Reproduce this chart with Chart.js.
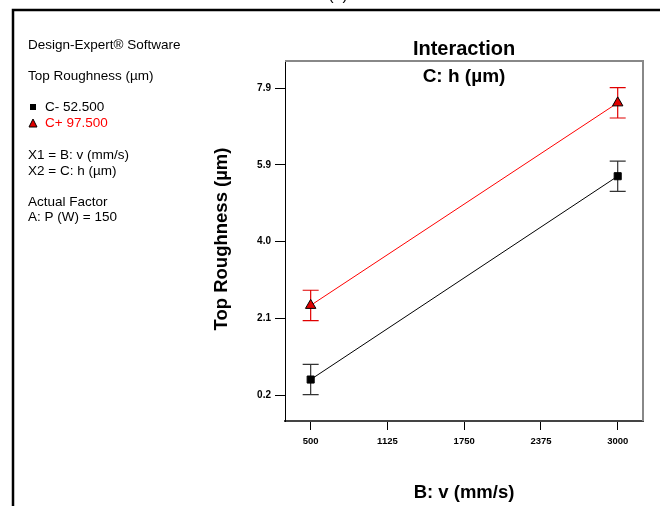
<!DOCTYPE html>
<html>
<head>
<meta charset="utf-8">
<script src="https://cdn.jsdelivr.net/npm/chart.js@4.4.1/dist/chart.umd.min.js"></script>
<style>
  html, body { margin: 0; padding: 0; background: #fff; }
  canvas { display: block; }
</style>
</head>
<body>
<canvas id="chart" width="660" height="506"></canvas>
<script>
// values
var speeds = [500, 3000];
var lowH = [0.54, 5.64];     // C- 52.500
var highH = [2.40, 7.48];    // C+ 97.500
var lowErr = [0.38, 0.38];
var highErr = [0.38, 0.38];
var xTicks = [500, 1125, 1750, 2375, 3000];
var yTickValues = [0.15, 2.075, 4.0, 5.925, 7.85];
var yTickLabels = ["0.2", "2.1", "4.0", "5.9", "7.9"];

var side = [
  ["Design-Expert\u00ae Software", 45, "#000"],
  ["Top Roughness (\u00b5m)", 76, "#000"],
  ["X1 = B: v (mm/s)", 155, "#000"],
  ["X2 = C: h (\u00b5m)", 171, "#000"],
  ["Actual Factor", 202, "#000"],
  ["A: P (W) = 150", 217, "#000"]
];

function toPoints(xs, ys) {
  return xs.map(function (x, i) { return { x: x, y: ys[i] }; });
}

var errorBars = {
  id: "errorBars",
  beforeDatasetsDraw: function (chart) {
    var ctx = chart.ctx;
    var xs = chart.scales.x, ys = chart.scales.y;
    var sets = [[lowH, lowErr, "#333"], [highH, highErr, "#e00000"]];
    ctx.save();
    ctx.lineWidth = 1.2;
    sets.forEach(function (s) {
      ctx.strokeStyle = s[2];
      speeds.forEach(function (v, i) {
        var px = xs.getPixelForValue(v);
        var top = ys.getPixelForValue(s[0][i] + s[1][i]);
        var bot = ys.getPixelForValue(s[0][i] - s[1][i]);
        ctx.beginPath();
        ctx.moveTo(px, top); ctx.lineTo(px, bot);
        ctx.moveTo(px - 8, top); ctx.lineTo(px + 8, top);
        ctx.moveTo(px - 8, bot); ctx.lineTo(px + 8, bot);
        ctx.stroke();
      });
    });
    ctx.restore();
  }
};

var decor = {
  id: "decor",
  afterDraw: function (chart) {
    var ctx = chart.ctx;
    var a = chart.chartArea;
    ctx.save();
    // outer frame
    ctx.strokeStyle = "#000";
    ctx.lineWidth = 2.5;
    ctx.beginPath();
    ctx.moveTo(13, 506); ctx.lineTo(13, 10); ctx.lineTo(660, 10);
    ctx.stroke();
    // top and right of plot box
    ctx.strokeStyle = "#888";
    ctx.lineWidth = 2;
    ctx.beginPath();
    ctx.moveTo(a.left, a.top); ctx.lineTo(a.right, a.top); ctx.lineTo(a.right, a.bottom);
    ctx.stroke();

    ctx.fillStyle = "#000";
    ctx.textAlign = "center";
    ctx.textBaseline = "bottom";
    ctx.font = "16px 'Liberation Sans', Arial, sans-serif";
    ctx.fillText("(a)", 338, 4);

    ctx.textBaseline = "middle";
    ctx.font = "bold 20px 'Liberation Sans', Arial, sans-serif";
    ctx.fillText("Interaction", 464, 49);
    ctx.font = "bold 19px 'Liberation Sans', Arial, sans-serif";
    ctx.fillText("C: h (\u00b5m)", 464, 77);
    ctx.font = "bold 18.5px 'Liberation Sans', Arial, sans-serif";
    ctx.fillText("B: v (mm/s)", 464, 493);
    ctx.save();
    ctx.translate(222, 239);
    ctx.rotate(-Math.PI / 2);
    ctx.fillText("Top Roughness (\u00b5m)", 0, 0);
    ctx.restore();

    // side panel
    ctx.textAlign = "left";
    ctx.font = "13.5px 'Liberation Sans', Arial, sans-serif";
    side.forEach(function (t) {
      ctx.fillStyle = t[2];
      ctx.fillText(t[0], 28, t[1]);
    });
    ctx.fillStyle = "#000";
    ctx.fillRect(30, 104, 6, 6);
    ctx.fillText("C- 52.500", 45, 107);
    ctx.beginPath();
    ctx.moveTo(33, 119); ctx.lineTo(37, 127); ctx.lineTo(29, 127); ctx.closePath();
    ctx.fillStyle = "#e00000";
    ctx.fill();
    ctx.strokeStyle = "#000";
    ctx.lineWidth = 1;
    ctx.stroke();
    ctx.fillStyle = "#ff0000";
    ctx.fillText("C+ 97.500", 45, 123);
    ctx.restore();
  }
};

var ctx = document.getElementById("chart").getContext("2d");
var myChart = new Chart(ctx, {
  type: "line",
  data: {
    datasets: [
      {
        label: "C- 52.500",
        data: toPoints(speeds, lowH),
        borderColor: "#000",
        borderWidth: 1,
        pointStyle: "rect",
        pointRadius: 5,
        pointBackgroundColor: "#000",
        pointBorderColor: "#000",
        pointBorderWidth: 1,
      },
      {
        label: "C+ 97.500",
        data: toPoints(speeds, highH),
        borderColor: "#ff0000",
        borderWidth: 1,
        pointStyle: "triangle",
        pointRadius: 6,
        pointBackgroundColor: "#e00000",
        pointBorderColor: "#000",
        pointBorderWidth: 1,
      },
    ],
  },
  options: {
    responsive: false,
    animation: false,
    layout: { padding: { left: 210, top: 61, right: 17, bottom: 45 } },
    plugins: { legend: { display: false }, tooltip: { enabled: false } },
    scales: {
      x: {
        type: "linear",
        min: 291,
        max: 3206,
        afterBuildTicks: function (scale) {
          scale.ticks = xTicks.map(function (v) { return { value: v }; });
        },
        afterFit: function (scale) { scale.height = 40; },
        grid: { drawOnChartArea: false, tickLength: 9, tickColor: "#000" },
        border: { color: "#444", width: 2 },
        ticks: {
          color: "#000",
          padding: 6,
          maxRotation: 0,
          font: { family: "'Liberation Sans', Arial, sans-serif", size: 9.5, weight: "bold" },
          callback: function (value) { return String(value); },
        },
      },
      y: {
        min: -0.5,
        max: 8.53,
        afterBuildTicks: function (scale) {
          scale.ticks = yTickValues.map(function (v) { return { value: v }; });
        },
        afterFit: function (scale) { scale.width = 75; },
        grid: { drawOnChartArea: false, tickLength: 10, tickColor: "#000" },
        border: { color: "#000", width: 1 },
        ticks: {
          color: "#000",
          padding: 4,
          font: { family: "'Liberation Sans', Arial, sans-serif", size: 10, weight: "bold" },
          callback: function (value, index) { return yTickLabels[index]; },
        },
      },
    },
  },
  plugins: [errorBars, decor],
});
</script>
</body>
</html>
